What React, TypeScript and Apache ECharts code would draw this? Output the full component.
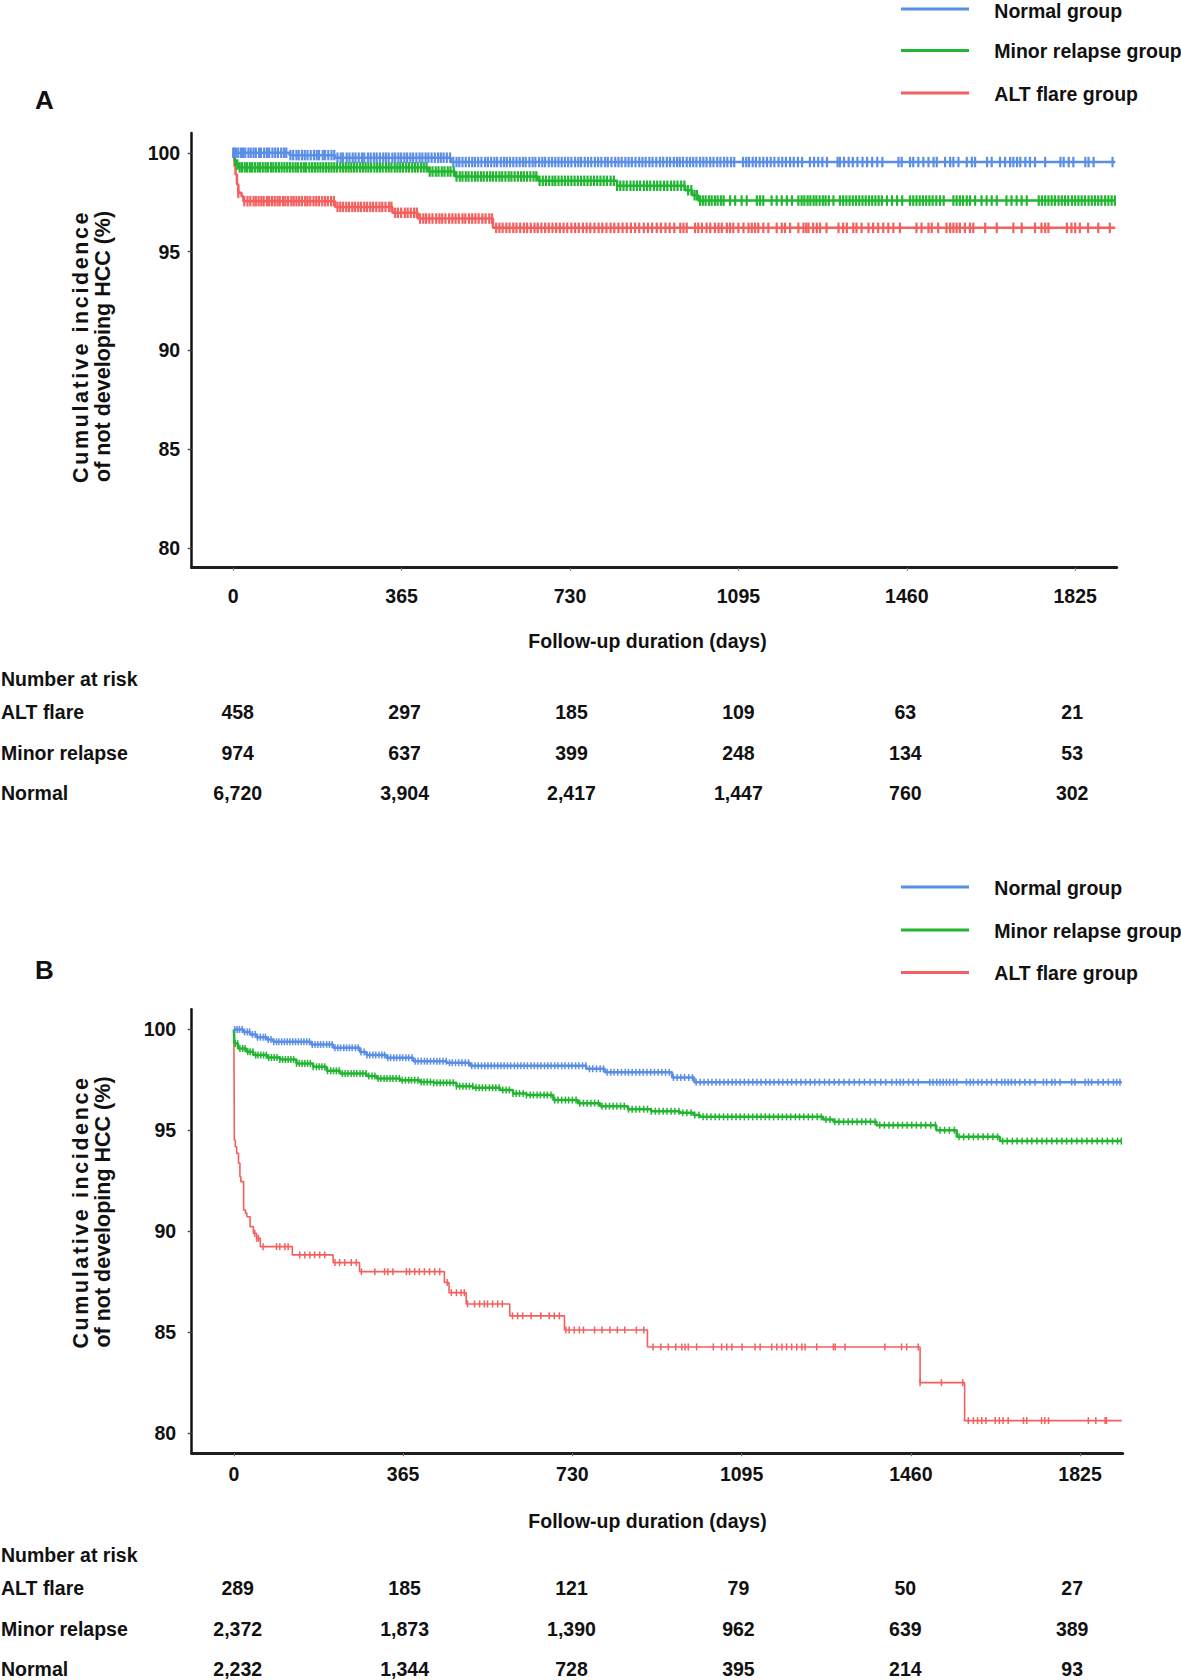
import React, { useEffect, useRef } from "react";
import * as echarts from "echarts";

// ---------- text ----------
const GROUP_NAMES = ["Normal group", "Minor relapse group", "ALT flare group"];
const RISK_ROW_NAMES = ["ALT flare", "Minor relapse", "Normal"];
const RISK_TITLE = "Number at risk";
const X_NAME = "Follow-up duration (days)";
const Y_NAME = ["Cumulative incidence", "of not developing HCC (%)"];
const PANEL_LETTERS = ["A", "B"];

// ---------- axes ----------
const TICK_DAYS = [0, 365, 730, 1095, 1460, 1825];
const Y_TICKS = [80, 85, 90, 95, 100];

// ---------- panel A : step curves [day, %] ----------
const A_NORMAL_STEPS = [[0, 100], [122, 99.88], [221, 99.75], [472, 99.53], [1912, 99.53]];
const A_MINOR_STEPS = [[0, 100], [3, 99.6], [8, 99.4], [12, 99.26], [423, 99.05], [481, 98.8], [661, 98.58], [832, 98.33], [980, 98.1], [995, 97.85], [1008, 97.58], [1912, 97.58]];
const A_ALT_STEPS = [[0, 100], [1, 99.75], [3, 99.3], [5, 98.9], [8, 98.4], [11, 97.98], [18, 97.8], [22, 97.55], [221, 97.26], [345, 96.96], [400, 96.67], [563, 96.2], [1912, 96.2]];

// ---------- panel A : censored times (days) ----------
const A_NORMAL_CENSOR = [0, 2, 6, 11, 17, 21, 26, 33, 38, 44, 49, 56, 60, 67, 73, 78, 85, 91, 97, 104, 110, 115, 124, 130, 137, 142, 149, 155, 161, 168, 175, 181, 186, 194, 199, 206, 213, 219, 226, 233, 238, 246, 252, 259, 265, 272, 279, 284, 292, 298, 305, 311, 318, 325, 331, 337, 345, 351, 358, 364, 371, 377, 384, 390, 397, 404, 410, 417, 423, 430, 437, 444, 450, 456, 463, 470, 477, 484, 490, 497, 504, 511, 518, 524, 531, 538, 546, 552, 559, 566, 572, 580, 587, 593, 600, 607, 614, 621, 628, 634, 642, 649, 655, 663, 670, 676, 684, 691, 698, 705, 712, 719, 726, 733, 741, 748, 754, 762, 769, 776, 784, 791, 798, 806, 812, 820, 828, 835, 842, 850, 857, 864, 872, 880, 887, 894, 902, 909, 917, 925, 932, 940, 947, 955, 962, 968, 975, 983, 990, 997, 1004, 1012, 1019, 1026, 1034, 1041, 1049, 1056, 1064, 1071, 1079, 1086, 1105, 1112, 1118, 1126, 1133, 1141, 1149, 1157, 1165, 1173, 1182, 1190, 1198, 1207, 1215, 1224, 1233, 1250, 1259, 1268, 1277, 1287, 1310, 1315, 1324, 1334, 1343, 1353, 1364, 1374, 1385, 1396, 1407, 1442, 1449, 1467, 1474, 1485, 1496, 1507, 1518, 1525, 1543, 1554, 1561, 1572, 1590, 1601, 1608, 1634, 1644, 1662, 1673, 1684, 1691, 1699, 1706, 1717, 1727, 1738, 1760, 1793, 1800, 1811, 1821, 1847, 1854, 1865, 1906];
const A_MINOR_CENSOR = [4, 9, 14, 19, 25, 30, 36, 41, 47, 53, 58, 64, 70, 75, 82, 87, 93, 99, 105, 111, 117, 123, 129, 135, 140, 147, 153, 158, 165, 171, 177, 183, 189, 195, 201, 207, 213, 219, 225, 232, 238, 244, 250, 256, 262, 268, 275, 281, 287, 293, 299, 306, 312, 318, 324, 331, 337, 343, 350, 356, 362, 368, 375, 381, 388, 394, 400, 407, 413, 419, 426, 432, 439, 445, 452, 458, 465, 471, 478, 484, 491, 497, 504, 510, 517, 524, 530, 537, 543, 550, 557, 563, 570, 577, 583, 590, 597, 603, 610, 617, 624, 630, 637, 644, 651, 657, 664, 671, 678, 685, 692, 698, 705, 712, 719, 726, 733, 740, 747, 754, 761, 768, 775, 782, 789, 796, 803, 810, 818, 825, 832, 839, 846, 853, 861, 868, 875, 882, 890, 897, 904, 912, 919, 926, 934, 941, 949, 956, 963, 971, 978, 986, 993, 1000, 1005, 1012, 1018, 1024, 1031, 1037, 1044, 1050, 1057, 1063, 1077, 1088, 1102, 1113, 1135, 1142, 1149, 1167, 1178, 1189, 1200, 1211, 1225, 1232, 1238, 1245, 1251, 1258, 1264, 1271, 1278, 1284, 1291, 1301, 1315, 1322, 1329, 1336, 1343, 1350, 1357, 1364, 1371, 1378, 1385, 1392, 1399, 1406, 1417, 1428, 1439, 1450, 1467, 1474, 1481, 1488, 1495, 1502, 1509, 1516, 1524, 1532, 1540, 1561, 1568, 1575, 1582, 1590, 1597, 1608, 1622, 1633, 1644, 1655, 1676, 1687, 1698, 1709, 1720, 1746, 1753, 1760, 1767, 1774, 1781, 1789, 1796, 1803, 1810, 1818, 1825, 1832, 1839, 1846, 1854, 1861, 1868, 1875, 1882, 1890, 1897, 1904, 1911];
const A_ALT_CENSOR = [11, 24, 31, 37, 44, 49, 55, 61, 66, 73, 78, 84, 90, 96, 101, 108, 113, 119, 126, 131, 137, 143, 149, 156, 161, 167, 174, 180, 186, 193, 199, 205, 212, 218, 226, 232, 238, 245, 251, 258, 264, 271, 277, 284, 290, 297, 303, 310, 317, 323, 330, 338, 343, 351, 357, 364, 372, 378, 385, 392, 398, 405, 412, 418, 425, 432, 440, 447, 453, 460, 468, 475, 482, 489, 497, 503, 511, 518, 525, 532, 540, 547, 555, 561, 570, 577, 584, 592, 599, 607, 614, 622, 630, 637, 645, 653, 660, 668, 676, 684, 692, 700, 708, 716, 724, 733, 741, 749, 758, 766, 774, 783, 792, 800, 809, 818, 826, 835, 844, 853, 862, 871, 880, 890, 899, 908, 918, 927, 937, 946, 956, 969, 976, 983, 1001, 1008, 1016, 1026, 1034, 1044, 1052, 1059, 1070, 1077, 1084, 1095, 1106, 1117, 1124, 1131, 1138, 1149, 1160, 1178, 1189, 1196, 1207, 1225, 1236, 1242, 1247, 1257, 1265, 1272, 1286, 1312, 1322, 1330, 1344, 1351, 1362, 1377, 1387, 1398, 1409, 1420, 1431, 1445, 1481, 1492, 1507, 1514, 1528, 1546, 1554, 1561, 1568, 1575, 1586, 1597, 1604, 1630, 1655, 1691, 1709, 1738, 1752, 1760, 1767, 1807, 1817, 1825, 1835, 1853, 1875, 1900];

// ---------- panel B : step curves ----------
const B_NORMAL_STEPS = [[0, 100], [20, 99.88], [35, 99.75], [49, 99.62], [71, 99.5], [85, 99.39], [167, 99.26], [214, 99.09], [272, 98.89], [286, 98.73], [329, 98.6], [387, 98.43], [459, 98.35], [509, 98.2], [760, 98.05], [800, 97.88], [945, 97.62], [993, 97.39], [1915, 97.39]];
const B_MINOR_STEPS = [[0, 100], [1, 99.3], [9, 99.06], [27, 98.9], [42, 98.73], [71, 98.61], [99, 98.51], [135, 98.32], [171, 98.15], [200, 97.95], [229, 97.82], [286, 97.69], [308, 97.57], [358, 97.49], [401, 97.4], [430, 97.36], [480, 97.19], [516, 97.11], [574, 97.0], [602, 96.83], [631, 96.75], [689, 96.5], [742, 96.35], [790, 96.2], [850, 96.05], [900, 95.95], [962, 95.87], [991, 95.76], [1005, 95.67], [1271, 95.54], [1293, 95.43], [1386, 95.26], [1515, 95.01], [1559, 94.68], [1652, 94.47], [1915, 94.47]];
const B_ALT_STEPS = [[0, 100], [1, 94.52], [3, 94.19], [6, 93.86], [10, 93.37], [13, 92.7], [15, 92.46], [21, 91.05], [25, 90.9], [28, 90.72], [35, 90.23], [42, 89.9], [49, 89.65], [57, 89.24], [126, 88.83], [214, 88.45], [271, 88.0], [454, 87.46], [464, 86.96], [501, 86.4], [595, 85.81], [713, 85.11], [892, 84.27], [1480, 82.5], [1576, 80.62], [1915, 80.62]];

// ---------- panel B : censored times ----------
const B_NORMAL_CENSOR = [2, 7, 12, 18, 23, 29, 34, 40, 46, 51, 57, 63, 68, 74, 80, 86, 92, 97, 103, 109, 115, 121, 127, 133, 139, 145, 151, 157, 163, 169, 175, 181, 187, 193, 200, 206, 212, 218, 224, 230, 237, 243, 249, 255, 262, 268, 274, 281, 287, 293, 300, 306, 313, 319, 325, 332, 338, 345, 351, 358, 364, 371, 377, 384, 391, 397, 404, 411, 417, 424, 431, 438, 444, 451, 458, 465, 471, 478, 485, 492, 499, 506, 513, 520, 527, 534, 541, 548, 555, 562, 569, 576, 583, 590, 597, 605, 612, 619, 626, 633, 641, 648, 655, 662, 670, 677, 684, 692, 699, 707, 714, 722, 729, 737, 744, 752, 759, 767, 774, 782, 790, 797, 805, 813, 820, 828, 836, 844, 851, 859, 867, 875, 883, 891, 899, 907, 915, 923, 931, 939, 948, 956, 964, 972, 981, 989, 997, 1006, 1014, 1023, 1031, 1040, 1048, 1057, 1066, 1075, 1083, 1092, 1101, 1110, 1119, 1128, 1137, 1147, 1156, 1165, 1175, 1184, 1194, 1203, 1213, 1223, 1233, 1243, 1253, 1263, 1274, 1284, 1295, 1305, 1316, 1327, 1338, 1349, 1360, 1372, 1383, 1395, 1406, 1419, 1429, 1437, 1444, 1455, 1465, 1476, 1501, 1508, 1516, 1523, 1530, 1537, 1544, 1552, 1559, 1580, 1588, 1595, 1605, 1613, 1624, 1634, 1645, 1656, 1663, 1670, 1677, 1685, 1695, 1706, 1717, 1728, 1746, 1753, 1764, 1771, 1782, 1807, 1814, 1836, 1843, 1850, 1864, 1875, 1886, 1897, 1904, 1911];
const B_MINOR_CENSOR = [3, 8, 13, 19, 24, 30, 35, 41, 47, 52, 58, 64, 70, 75, 81, 87, 93, 99, 105, 111, 117, 123, 129, 135, 141, 147, 153, 159, 165, 171, 178, 184, 190, 196, 202, 209, 215, 221, 227, 234, 240, 246, 253, 259, 265, 272, 278, 285, 291, 298, 304, 311, 317, 324, 330, 337, 343, 350, 357, 363, 370, 377, 383, 390, 397, 404, 410, 417, 424, 431, 438, 445, 452, 459, 466, 473, 480, 487, 494, 501, 508, 515, 522, 529, 536, 543, 551, 558, 565, 572, 580, 587, 594, 602, 609, 616, 624, 631, 639, 646, 654, 661, 669, 676, 684, 692, 699, 707, 715, 722, 730, 738, 746, 754, 762, 770, 778, 786, 794, 802, 810, 818, 826, 834, 842, 851, 859, 867, 875, 884, 892, 900, 909, 917, 926, 934, 943, 951, 960, 968, 977, 986, 994, 1003, 1012, 1020, 1029, 1038, 1047, 1056, 1065, 1074, 1083, 1092, 1101, 1110, 1119, 1128, 1137, 1146, 1155, 1164, 1174, 1183, 1192, 1201, 1211, 1220, 1229, 1239, 1248, 1258, 1267, 1277, 1286, 1296, 1305, 1315, 1325, 1334, 1344, 1354, 1363, 1373, 1383, 1393, 1403, 1413, 1422, 1432, 1442, 1452, 1462, 1472, 1482, 1492, 1503, 1513, 1523, 1533, 1543, 1554, 1564, 1574, 1585, 1595, 1605, 1616, 1626, 1637, 1647, 1658, 1668, 1679, 1689, 1700, 1711, 1721, 1732, 1743, 1753, 1764, 1775, 1786, 1796, 1807, 1818, 1829, 1840, 1851, 1862, 1873, 1884, 1895, 1906, 1914];
const B_ALT_CENSOR = [45, 49, 53, 63, 92, 99, 110, 117, 142, 153, 164, 174, 185, 196, 218, 228, 239, 253, 264, 275, 304, 325, 332, 343, 372, 379, 390, 400, 411, 422, 433, 444, 460, 469, 480, 490, 497, 504, 519, 530, 540, 547, 558, 569, 579, 601, 612, 623, 641, 662, 680, 691, 702, 716, 723, 734, 745, 754, 778, 794, 811, 827, 843, 868, 884, 904, 921, 937, 953, 966, 973, 980, 998, 1034, 1052, 1063, 1074, 1096, 1124, 1135, 1160, 1171, 1182, 1192, 1203, 1214, 1225, 1232, 1257, 1293, 1297, 1318, 1404, 1440, 1451, 1476, 1480, 1526, 1572, 1584, 1595, 1604, 1613, 1622, 1642, 1651, 1659, 1670, 1703, 1710, 1742, 1749, 1757, 1843, 1859, 1879, 1882];

// ---------- number at risk (rows: ALT flare, Minor relapse, Normal) ----------
const A_RISK_ALT = [458, 297, 185, 109, 63, 21];
const A_RISK_MINOR = [974, 637, 399, 248, 134, 53];
const A_RISK_NORMAL = [6720, 3904, 2417, 1447, 760, 302];
const B_RISK_ALT = [289, 185, 121, 79, 50, 27];
const B_RISK_MINOR = [2372, 1873, 1390, 962, 639, 389];
const B_RISK_NORMAL = [2232, 1344, 728, 395, 214, 93];

// ---------- style ----------
const COLORS = ["#5b8ee6", "#22b531", "#f45f5f"];
const FONT = '"Liberation Sans", Arial, Helvetica, sans-serif';
const INK = "#111111";
const Y_NAME_SPACING = "2.6px";

const PANELS = [
  {
    steps: [A_NORMAL_STEPS, A_MINOR_STEPS, A_ALT_STEPS],
    censor: [A_NORMAL_CENSOR, A_MINOR_CENSOR, A_ALT_CENSOR],
    risk: [A_RISK_ALT, A_RISK_MINOR, A_RISK_NORMAL],
    grid: { left: 191.7, top: 133, width: 925, height: 434.7 },
    xMin: -90, xMax: 1915,
    yLabelMargin: 11.5, xLabelMargin: 18,
    legendY: [9, 50.5, 93], legendTextY: [10.5, 51, 93.5], letterY: 99.5,
    yNameCY: 346.4, xNameY: 640.7,
    riskY: [679, 712.3, 753, 793.3],
    markH: 10.5, markW: 2.2, lineW: [2.5, 2.5, 2.5],
  },
  {
    steps: [B_NORMAL_STEPS, B_MINOR_STEPS, B_ALT_STEPS],
    censor: [B_NORMAL_CENSOR, B_MINOR_CENSOR, B_ALT_CENSOR],
    risk: [B_RISK_ALT, B_RISK_MINOR, B_RISK_NORMAL],
    grid: { left: 191.7, top: 1009.3, width: 931, height: 444 },
    xMin: -91, xMax: 1917,
    yLabelMargin: 15.5, xLabelMargin: 11,
    legendY: [887, 930, 972.5], legendTextY: [887.5, 930.5, 973], letterY: 970,
    yNameCY: 1212, xNameY: 1520.7,
    riskY: [1555, 1588.3, 1629.3, 1669.3],
    markH: 7, markW: 1.5, lineW: [2.5, 2.5, 1.6],
  },
];

const RISK_COL_X0 = 237.7;
const RISK_COL_STEP = 166.9;

function levelAt(steps: number[][], t: number): number {
  let v = steps[0][1];
  for (const [d, y] of steps) {
    if (d <= t) v = y;
    else break;
  }
  return v;
}

function textStyle(text: string, size: number, align: string) {
  return {
    text,
    fontSize: size,
    fontWeight: "bold",
    fontFamily: FONT,
    fill: INK,
    align,
    verticalAlign: "middle",
    textAlign: align,
    textVerticalAlign: "middle",
  };
}

function buildOption() {
  const grid: any[] = [];
  const xAxis: any[] = [];
  const yAxis: any[] = [];
  const series: any[] = [];
  const graphic: any[] = [];

  PANELS.forEach((p, pi) => {
    grid.push({ ...p.grid, containLabel: false });
    xAxis.push({
      gridIndex: pi,
      type: "value",
      min: p.xMin,
      max: p.xMax,
      axisLine: { show: true, onZero: false, lineStyle: { color: "#1e1e1e", width: 3 } },
      axisTick: { show: true, length: 3, customValues: TICK_DAYS, lineStyle: { color: "#777", width: 1.2 } },
      axisLabel: {
        customValues: TICK_DAYS,
        margin: p.xLabelMargin,
        formatter: (v: number) => String(v),
        fontSize: 19.5,
        fontWeight: "bold",
        fontFamily: FONT,
        color: INK,
      },
      splitLine: { show: false },
    });
    yAxis.push({
      gridIndex: pi,
      type: "value",
      min: 79,
      max: 101,
      axisLine: { show: true, onZero: false, lineStyle: { color: "#111", width: 2.5 } },
      axisTick: { show: true, length: 4, customValues: Y_TICKS, lineStyle: { color: "#444", width: 1.4 } },
      axisLabel: {
        customValues: Y_TICKS,
        margin: p.yLabelMargin,
        formatter: (v: number) => String(v),
        fontSize: 19.5,
        fontWeight: "bold",
        fontFamily: FONT,
        color: INK,
      },
      splitLine: { show: false },
    });

    p.steps.forEach((st, gi) => {
      series.push({
        type: "line",
        name: GROUP_NAMES[gi],
        xAxisIndex: pi,
        yAxisIndex: pi,
        step: "end",
        data: st,
        showSymbol: false,
        symbol: "none",
        silent: true,
        z: 2 + (2 - gi),
        lineStyle: { color: COLORS[gi], width: p.lineW[gi] },
      });
      series.push({
        type: "scatter",
        name: GROUP_NAMES[gi] + " censored",
        xAxisIndex: pi,
        yAxisIndex: pi,
        data: p.censor[gi].map((d) => [d, levelAt(st, d)]),
        symbol: "rect",
        symbolSize: [p.markW, p.markH],
        silent: true,
        z: 3 + (2 - gi),
        itemStyle: { color: COLORS[gi], opacity: 1 },
      });
    });

    graphic.push({ type: "text", x: 35, y: p.letterY, style: textStyle(PANEL_LETTERS[pi], 26, "left") });

    GROUP_NAMES.forEach((g, gi) => {
      const y = p.legendY[gi];
      graphic.push({
        type: "rect",
        shape: { x: 901, y: y - 1.5, width: 68, height: 3 },
        style: { fill: COLORS[gi] },
      });
      graphic.push({ type: "text", x: 994.3, y: p.legendTextY[gi], style: textStyle(g, 19.5, "left") });
    });

    [80.5, 103].forEach((x, li) => {
      graphic.push({
        type: "text",
        x,
        y: p.yNameCY,
        rotation: Math.PI / 2,
        style: textStyle(Y_NAME[li], 21.5, "center"),
      });
    });

    graphic.push({ type: "text", x: 647.5, y: p.xNameY, style: textStyle(X_NAME, 19.5, "center") });

    graphic.push({ type: "text", x: 1, y: p.riskY[0], style: textStyle(RISK_TITLE, 19.5, "left") });
    RISK_ROW_NAMES.forEach((rn, ri) => {
      const y = p.riskY[ri + 1];
      graphic.push({ type: "text", x: 1, y, style: textStyle(rn, 19.5, "left") });
      p.risk[ri].forEach((n, ci) => {
        graphic.push({
          type: "text",
          x: RISK_COL_X0 + ci * RISK_COL_STEP,
          y,
          style: textStyle(n.toLocaleString("en-US"), 19.5, "center"),
        });
      });
    });
  });

  return {
    animation: false,
    backgroundColor: "#ffffff",
    textStyle: { fontFamily: FONT },
    grid,
    xAxis,
    yAxis,
    series,
    graphic,
  };
}

export default function App() {
  const ref = useRef<HTMLDivElement>(null);
  useEffect(() => {
    const host = ref.current;
    if (!host) return;
    const chart = echarts.init(host, undefined, { renderer: "svg" });
    const spaceOut = () => {
      host.querySelectorAll("text").forEach((t: any) => {
        const s = (t.textContent || "").replace(/[\s\u00a0]+/g, " ").trim();
        if (s.indexOf("Cumulative") === 0 && t.getAttribute("letter-spacing") !== Y_NAME_SPACING) {
          t.setAttribute("letter-spacing", Y_NAME_SPACING);
          t.style.letterSpacing = Y_NAME_SPACING;
        }
      });
    };
    const observer = new MutationObserver(() => spaceOut());
    observer.observe(host, { childList: true, subtree: true, characterData: true });
    chart.on("finished", spaceOut);
    chart.on("rendered", spaceOut);
    chart.setOption(buildOption() as any);
    spaceOut();
    let frames = 0;
    let raf = 0;
    const loop = () => {
      spaceOut();
      if (++frames < 30) raf = requestAnimationFrame(loop);
    };
    raf = requestAnimationFrame(loop);
    const timer = window.setTimeout(spaceOut, 50);
    return () => {
      window.clearTimeout(timer);
      cancelAnimationFrame(raf);
      observer.disconnect();
      chart.dispose();
    };
  }, []);
  return (
    <div
      ref={ref}
      style={{ position: "absolute", left: 0, top: 0, width: 1181, height: 1680, background: "#fff" }}
    />
  );
}
